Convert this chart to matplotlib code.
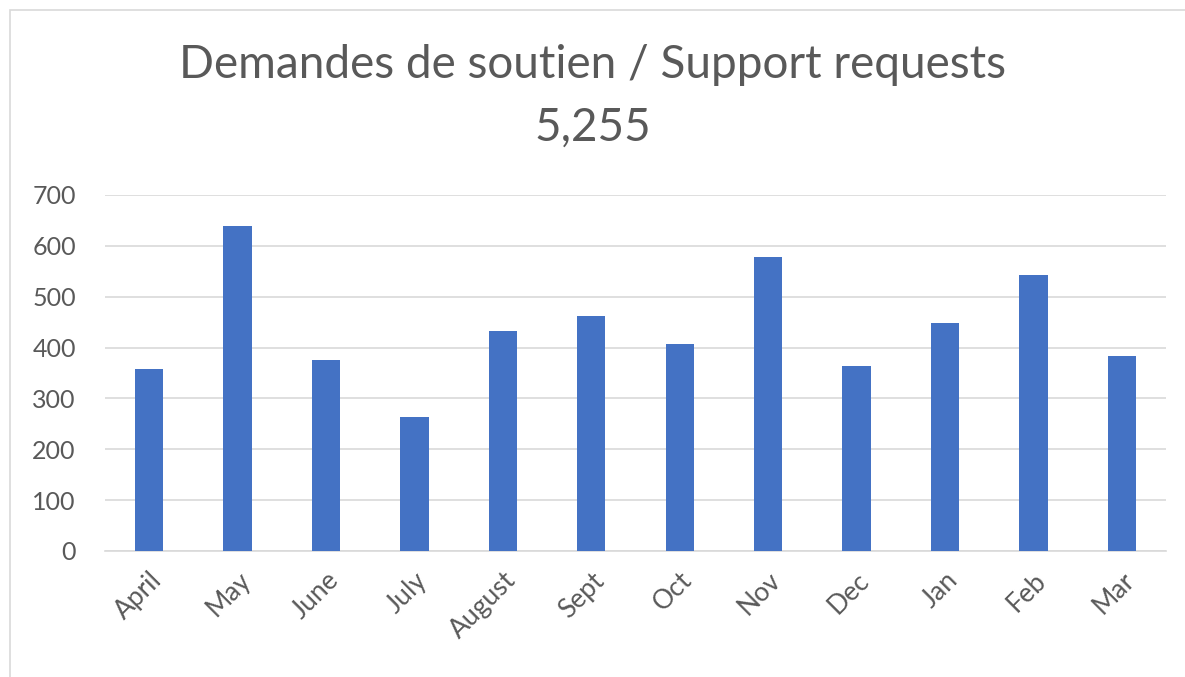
import matplotlib
matplotlib.use("Agg")
import matplotlib.pyplot as plt
from matplotlib.patches import Rectangle

# Données
mois = ["April", "May", "June", "July", "August", "Sept", "Oct", "Nov", "Dec", "Jan", "Feb", "Mar"]
demandes = [357, 640, 375, 263, 433, 462, 408, 578, 364, 449, 542, 384]
total = "5,255"
ticks_y = [0, 100, 200, 300, 400, 500, 600, 700]

gris = "#595959"
plt.rcParams['font.family'] = ['Lato', 'DejaVu Sans']

fig = plt.figure(figsize=(11.85, 6.77), dpi=100)
ax = fig.add_axes([105/1185, 1 - 551/677, 1061/1185, (551-195)/677])

ax.bar(range(len(mois)), demandes, width=0.32, color="#4472C4", zorder=3)
ax.set_xlim(-0.5, len(mois) - 0.5)
ax.set_ylim(0, 700)
ax.set_yticks(ticks_y)
ax.set_yticklabels([str(t) for t in ticks_y], fontsize=18, color=gris)
ax.set_xticks(range(len(mois)))
ax.set_xticklabels(mois, rotation=45, ha="right", rotation_mode="anchor", fontsize=19, color=gris)
ax.tick_params(axis="y", length=0, pad=21)
ax.tick_params(axis="x", length=0, pad=12)
ax.grid(axis="y", color="#d9d9d9", linewidth=1.2, zorder=0)
for s in ["top", "right", "left"]:
    ax.spines[s].set_visible(False)
ax.spines["bottom"].set_color("#d9d9d9")
ax.spines["bottom"].set_linewidth(1.2)

fig.text(0.5, 1 - 65/677, "Demandes de soutien / Support requests", ha="center", va="center", fontsize=33, color=gris)
fig.text(0.5, 1 - 128/677, total, ha="center", va="center", fontsize=33, color=gris)

# cadre du graphique
fig.patches.append(Rectangle((10/1185, -0.01), 1.02, 1 - 10/677 + 0.01, transform=fig.transFigure,
                             fill=False, edgecolor="#d9d9d9", linewidth=1.2))

fig.savefig("out.png", dpi=100)
